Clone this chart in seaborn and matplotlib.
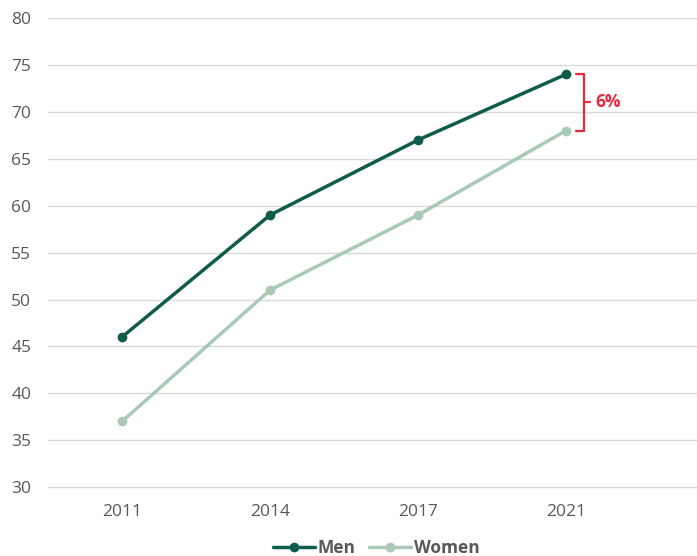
import matplotlib
matplotlib.use("Agg")
import matplotlib.pyplot as plt
import seaborn as sns
import pandas as pd

years = ["2011", "2014", "2017", "2021"]
men = [46, 59, 67, 74]
women = [37, 51, 59, 68]
gap_label = "6%"

men_color = "#0f5b4c"
women_color = "#aac9b6"
gap_color = "#e8283c"
text_color = "#595959"

sns.set_theme(style="white")
plt.rcParams["font.family"] = ["Open Sans", "DejaVu Sans"]

df = pd.DataFrame({
    "pos": list(range(len(years))) * 2,
    "value": men + women,
    "group": ["Men"] * len(years) + ["Women"] * len(years),
})

fig = plt.figure(figsize=(6.97, 5.56), dpi=100)
ax = fig.add_axes([48 / 697, 66 / 556, 1 - 48 / 697, (490 - 18) / 556])

sns.lineplot(data=df, x="pos", y="value", hue="group",
             palette={"Men": men_color, "Women": women_color},
             marker="o", markersize=7, markeredgewidth=0, linewidth=2.5,
             ax=ax)

ax.set_ylim(29.7, 80)
ax.set_yticks(range(30, 81, 5))
ax.set_xlim(-0.5, 3.885)
ax.set_xticks(range(len(years)))
ax.set_xticklabels(years)
ax.set_xlabel("")
ax.set_ylabel("")
ax.grid(axis="y", color="#d9d9d9", linewidth=1)
ax.set_axisbelow(True)
for s in ax.spines.values():
    s.set_visible(False)
ax.tick_params(axis="both", length=0, labelsize=12.5, colors=text_color)
ax.tick_params(axis="y", pad=12)
ax.tick_params(axis="x", pad=10)

# Bracket showing the gap in 2021
bx = 3.12
top, bot = men[-1], women[-1]
ax.plot([bx - 0.05, bx, bx, bx - 0.05], [top, top, bot, bot],
        color=gap_color, linewidth=1.6, clip_on=False,
        solid_joinstyle="round", solid_capstyle="round")
mid = (top + bot) / 2
ax.plot([bx, bx + 0.045], [mid, mid], color=gap_color, linewidth=1.6,
        solid_capstyle="round")
ax.text(bx + 0.075, mid, gap_label, color=gap_color, fontsize=12.5,
        fontweight="bold", va="center", ha="left")

handles, labels = ax.get_legend_handles_labels()
leg = ax.legend(handles, labels, loc="center",
                bbox_to_anchor=(0.506, -0.122),
                ncol=2, frameon=False, fontsize=12.5, handlelength=2.4,
                columnspacing=0.8, handletextpad=0.15, borderpad=0.1)
for t in leg.get_texts():
    t.set_color(text_color)
    t.set_fontweight("bold")

fig.savefig("out.png", dpi=100)
